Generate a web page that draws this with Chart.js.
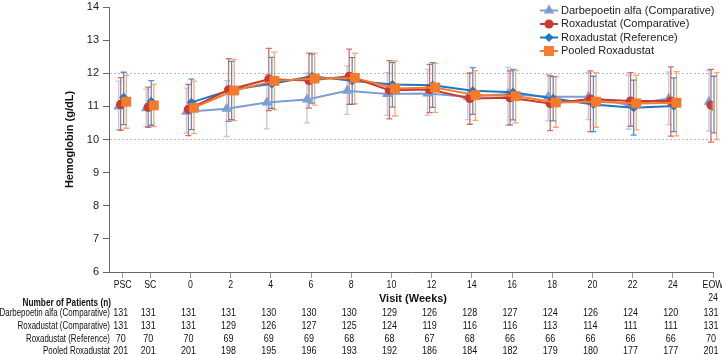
<!DOCTYPE html>
<html>
<head>
<meta charset="utf-8">
<script src="https://cdn.jsdelivr.net/npm/chart.js@4.4.1/dist/chart.umd.min.js"></script>
<style>
  html, body { margin: 0; padding: 0; background: #fff; }
  #wrap { width: 722px; height: 354px; }
</style>
</head>
<body>
<div id="wrap"><canvas id="myChart"></canvas></div>
<script>
// visits (x positions in weeks; PSC / SC / EOW placed on the same week axis)
const visitLabels = ['PSC', 'SC', '0', '2', '4', '6', '8', '10', '12', '14', '16', '18', '20', '22', '24', ['EOW', '24']];
const visitWeeks = [-3.37, -2, 0, 2, 4, 6, 8, 10, 12, 14, 16, 18, 20, 22, 24, 26];

// mean hemoglobin (g/dL) with error bar ends
const darbeMean = [11.00, 10.94, 10.84, 10.93, 11.12, 11.21, 11.47, 11.37, 11.39, 11.29, 11.37, 11.29, 11.29, 11.04, 11.24, 11.14];
const darbeHigh = [11.76, 11.52, 11.55, 11.78, 11.96, 12.00, 12.22, 12.02, 12.12, 11.99, 12.18, 11.96, 12.02, 11.94, 12.04, 12.09];
const darbeLow = [10.30, 10.39, 10.19, 10.09, 10.32, 10.50, 10.76, 10.73, 10.73, 10.60, 10.43, 10.56, 10.60, 10.31, 10.45, 10.26];

const roxaCompMean = [11.06, 10.97, 10.91, 11.50, 11.82, 11.78, 11.91, 11.49, 11.51, 11.24, 11.26, 11.09, 11.22, 11.16, 11.16, 11.04];
const roxaCompHigh = [11.87, 11.58, 11.66, 12.44, 12.75, 12.61, 12.73, 12.38, 12.27, 12.01, 12.07, 11.92, 12.07, 12.02, 12.19, 12.12];
const roxaCompLow = [10.28, 10.37, 10.12, 10.55, 10.87, 10.95, 11.06, 10.62, 10.81, 10.46, 10.44, 10.27, 10.24, 10.40, 10.10, 9.92];

const roxaRefMean = [11.27, 11.15, 11.12, 11.50, 11.68, 11.91, 11.77, 11.66, 11.64, 11.47, 11.43, 11.24, 11.06, 10.96, 11.01, 11.01];
const roxaRefHigh = [12.03, 11.78, 11.82, 12.36, 12.48, 12.58, 12.47, 12.32, 12.32, 12.17, 12.12, 11.90, 11.91, 11.79, 11.86, 11.91];
const roxaRefLow = [10.45, 10.43, 10.30, 10.60, 10.94, 11.10, 11.06, 10.98, 10.97, 10.76, 10.59, 10.56, 10.24, 10.13, 10.24, 10.20];

const pooledMean = [11.14, 11.03, 10.96, 11.48, 11.77, 11.84, 11.86, 11.54, 11.57, 11.34, 11.31, 11.12, 11.14, 11.09, 11.11, 11.01];
const pooledHigh = [11.94, 11.67, 11.76, 12.42, 12.64, 12.61, 12.61, 12.37, 12.30, 12.08, 12.09, 11.90, 12.02, 11.94, 12.05, 12.02];
const pooledLow = [10.34, 10.39, 10.18, 10.57, 10.90, 11.04, 11.08, 10.71, 10.82, 10.58, 10.50, 10.37, 10.37, 10.29, 10.11, 10.00];

// number of patients table
const darbeN = [131, 131, 131, 131, 130, 130, 130, 129, 126, 128, 127, 124, 126, 124, 120, 131];
const roxaCompN = [131, 131, 131, 129, 126, 127, 125, 124, 119, 116, 116, 113, 114, 111, 111, 131];
const roxaRefN = [70, 70, 70, 69, 69, 69, 68, 68, 67, 68, 66, 66, 66, 66, 66, 70];
const pooledN = [201, 201, 201, 198, 195, 196, 193, 192, 186, 184, 182, 179, 180, 177, 177, 201];

const seriesNames = ['Darbepoetin alfa (Comparative)', 'Roxadustat (Comparative)', 'Roxadustat (Reference)', 'Pooled Roxadustat'];

const mainFont = "'Liberation Sans', Arial, Helvetica, sans-serif";

// no condensed face installed, so squeeze regular text horizontally
function narrowText(ctx, text, x, y, align, squeeze) {
  ctx.save();
  ctx.translate(x, y);
  ctx.scale(squeeze, 1);
  ctx.textAlign = align;
  ctx.fillText(text, 0, 0);
  ctx.restore();
}

function makeSeries(label, mean, low, high, color, barColor, style, radius, dodge, order) {
  return {
    label: label,
    data: visitWeeks.map((w, i) => ({ x: w + dodge, y: mean[i] })),
    errLow: low,
    errHigh: high,
    barColor: barColor,
    borderColor: color,
    backgroundColor: color,
    pointBackgroundColor: color,
    pointBorderColor: color,
    pointBorderWidth: 0,
    pointStyle: style,
    pointRadius: radius,
    borderWidth: 2,
    tension: 0,
    order: order,
    segment: {
      // no line to/from PSC, SC and EOW
      borderColor: ctx => (ctx.p0DataIndex < 2 || ctx.p1DataIndex > 14) ? 'rgba(0,0,0,0)' : undefined
    }
  };
}

const errorBars = {
  id: 'errorBars',
  beforeDatasetsDraw(chart) {
    const ctx = chart.ctx;
    const yScale = chart.scales.y;
    const xScale = chart.scales.x;
    ctx.save();
    chart.data.datasets.forEach(ds => {
      ctx.strokeStyle = ds.barColor;
      ctx.lineWidth = 1.3;
      ds.data.forEach((p, i) => {
        const x = xScale.getPixelForValue(p.x);
        const yTop = yScale.getPixelForValue(ds.errHigh[i]);
        const yBot = yScale.getPixelForValue(ds.errLow[i]);
        ctx.beginPath();
        ctx.moveTo(x, yTop); ctx.lineTo(x, yBot);
        ctx.moveTo(x - 3, yTop); ctx.lineTo(x + 3, yTop);
        ctx.moveTo(x - 3, yBot); ctx.lineTo(x + 3, yBot);
        ctx.stroke();
      });
    });
    ctx.restore();
  }
};

const extras = {
  id: 'extras',
  afterDraw(chart) {
    const ctx = chart.ctx;
    const area = chart.chartArea;
    const xScale = chart.scales.x;
    ctx.save();
    ctx.fillStyle = '#111';
    ctx.textBaseline = 'middle';

    // y axis title
    ctx.save();
    ctx.translate(70, (area.top + area.bottom) / 2);
    ctx.rotate(-Math.PI / 2);
    ctx.font = 'bold 11px ' + mainFont;
    ctx.textAlign = 'center';
    ctx.fillText('Hemoglobin (g/dL)', 0, 0);
    ctx.restore();

    // x tick labels
    ctx.font = '11.5px ' + mainFont;
    visitLabels.forEach((lab, i) => {
      const x = xScale.getPixelForValue(visitWeeks[i]);
      const lines = Array.isArray(lab) ? lab : [lab];
      lines.forEach((t, j) => narrowText(ctx, t, x, 284.5 + j * 13.5, 'center', 0.76));
    });

    // x axis title
    ctx.font = 'bold 11px ' + mainFont;
    ctx.textAlign = 'center';
    ctx.fillText('Visit (Weeks)', (area.left + area.right) / 2 + 2, 299);

    // patients table
    ctx.font = 'bold 11px ' + mainFont;
    narrowText(ctx, 'Number of Patients (n)', 111, 303, 'right', 0.75);
    const rows = [darbeN, roxaCompN, roxaRefN, pooledN];
    const rowY = [312.5, 325.5, 338.5, 350.5];
    rows.forEach((row, r) => {
      ctx.font = '11px ' + mainFont;
      narrowText(ctx, seriesNames[r], 110, rowY[r], 'right', 0.72);
      ctx.font = '11.5px ' + mainFont;
      row.forEach((n, i) => {
        narrowText(ctx, String(n), xScale.getPixelForValue(visitWeeks[i]) - 2, rowY[r], 'center', 0.78);
      });
    });

    // legend
    const lx = 540, ly = [10.5, 24, 37.5, 51];
    chart.data.datasets.forEach((ds, i) => {
      ctx.strokeStyle = ds.borderColor;
      ctx.lineWidth = 2;
      ctx.beginPath();
      ctx.moveTo(lx, ly[i]); ctx.lineTo(lx + 18, ly[i]);
      ctx.stroke();
      ctx.fillStyle = ds.borderColor;
      Chart.helpers.drawPoint(ctx, { pointStyle: ds.pointStyle, radius: ds.pointRadius, rotation: 0, borderWidth: 0 }, lx + 9, ly[i]);
      ctx.fillStyle = '#222';
      ctx.font = '11px ' + mainFont;
      ctx.textAlign = 'left';
      ctx.fillText(ds.label, lx + 21, ly[i]);
    });
    ctx.restore();
  }
};

const datasets = [
  makeSeries(seriesNames[0], darbeMean, darbeLow, darbeHigh, '#7b9fd2', 'rgba(123,159,210,0.55)', 'triangle', 6, -0.2, 3),
  makeSeries(seriesNames[1], roxaCompMean, roxaCompLow, roxaCompHigh, '#c83b33', 'rgba(200,59,51,0.75)', 'circle', 4.6, -0.1, 1),
  makeSeries(seriesNames[2], roxaRefMean, roxaRefLow, roxaRefHigh, '#1f77c4', 'rgba(31,119,196,0.8)', 'rectRot', 4.6, 0.05, 2),
  makeSeries(seriesNames[3], pooledMean, pooledLow, pooledHigh, '#f47a2c', 'rgba(244,122,44,0.65)', 'rect', 7, 0.18, 0)
];

const ctx = document.querySelector('#myChart');
new Chart(ctx, {
  type: 'line',
  data: { datasets: datasets },
  options: {
    responsive: true,
    maintainAspectRatio: false,
    animation: false,
    layout: { padding: { top: 0, right: 9, bottom: 0, left: 0 } },
    plugins: {
      legend: { display: false },
      tooltip: { enabled: false }
    },
    scales: {
      x: {
        type: 'linear',
        min: -4.05,
        max: 26,
        afterBuildTicks: scale => {
          scale.ticks = visitWeeks.map(v => ({ value: v }));
        },
        afterFit: scale => {
          scale.height = 82;
          scale.paddingLeft = 0;
          scale.paddingRight = 9;
        },
        ticks: { display: false, autoSkip: false, maxRotation: 0 },
        grid: {
          drawOnChartArea: false,
          drawTicks: true,
          tickLength: 6,
          tickColor: '#999'
        },
        border: { color: '#666', width: 1 }
      },
      y: {
        min: 6,
        max: 14,
        afterFit: scale => {
          scale.width = 109;
          scale.paddingTop = 5;
          scale.paddingBottom = 0;
        },
        ticks: {
          stepSize: 1,
          padding: 4,
          color: '#222',
          font: { family: mainFont, size: 11 }
        },
        grid: {
          color: c => (c.tick && (c.tick.value === 10 || c.tick.value === 12)) ? '#bbbbbb' : 'rgba(0,0,0,0)',
          tickColor: '#666',
          tickLength: 6,
          lineWidth: 1
        },
        border: { color: '#666', width: 1, dash: [2, 2] }
      }
    }
  },
  plugins: [errorBars, extras]
});
</script>
</body>
</html>
